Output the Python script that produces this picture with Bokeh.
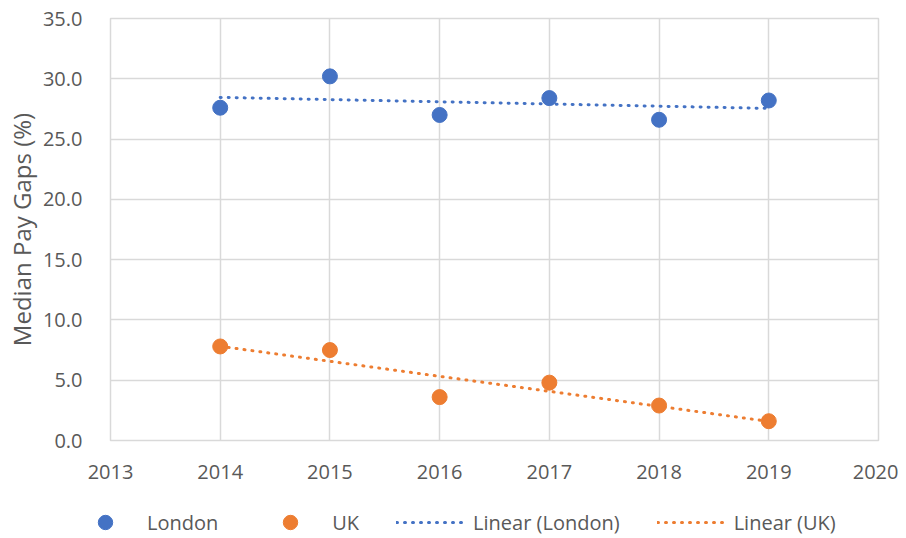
import numpy as np
from bokeh.plotting import figure
from bokeh.layouts import column
from bokeh.models import (Range1d, FixedTicker, NumeralTickFormatter, Legend, LegendItem)
from bokeh.embed import file_html
from bokeh.resources import INLINE

# ---- data ----
years = [2014, 2015, 2016, 2017, 2018, 2019]
london = [27.6, 30.2, 27.0, 28.4, 26.6, 28.2]
uk = [7.8, 7.5, 3.6, 4.8, 2.9, 1.6]
x_ticks = [2013, 2014, 2015, 2016, 2017, 2018, 2019, 2020]
y_ticks = [0, 5, 10, 15, 20, 25, 30, 35]
series_names = ["London", "UK", "Linear (London)", "Linear (UK)"]

BLUE = "#4472C4"
ORANGE = "#ED7D31"
GRID = "#D9D9D9"
TEXT = "#595959"
FONT = "Open Sans"

p = figure(width=898, height=498, output_backend="svg", toolbar_location=None,
           x_range=Range1d(x_ticks[0], x_ticks[-1]), y_range=Range1d(y_ticks[0], y_ticks[-1]),
           min_border_left=110, min_border_right=20, min_border_top=18, min_border_bottom=58)

p.outline_line_color = GRID
p.outline_line_width = 1.5
p.background_fill_color = "white"
p.border_fill_color = "white"

for ax in (p.xaxis, p.yaxis):
    ax.axis_line_color = None
    ax.major_tick_line_color = None
    ax.minor_tick_line_color = None
    ax.major_label_text_font = FONT
    ax.major_label_text_font_size = "20px"
    ax.major_label_text_color = TEXT

p.xaxis.ticker = FixedTicker(ticks=x_ticks)
p.yaxis.ticker = FixedTicker(ticks=y_ticks)
p.xaxis.formatter = NumeralTickFormatter(format="0")
p.yaxis.formatter = NumeralTickFormatter(format="0.0")
p.xaxis.major_label_standoff = 18
p.yaxis.major_label_standoff = 22

p.yaxis.axis_label = "Median Pay Gaps (%)"
p.yaxis.axis_label_text_font = FONT
p.yaxis.axis_label_text_font_size = "24px"
p.yaxis.axis_label_text_font_style = "normal"
p.yaxis.axis_label_text_color = TEXT
p.yaxis.axis_label_standoff = 2

p.xgrid.grid_line_color = GRID
p.ygrid.grid_line_color = GRID
p.xgrid.grid_line_width = 1.5
p.ygrid.grid_line_width = 1.5

# trend lines (least squares fit of the data, as Excel's linear trendline)
yr = np.array(years, dtype=float)
kl = np.polyfit(yr, london, 1)
ku = np.polyfit(yr, uk, 1)
tx = [years[0], years[-1]]
tl = list(np.polyval(kl, tx))
tu = list(np.polyval(ku, tx))

line_style = dict(line_width=3, line_dash="1 7", line_cap="round")
p.line(tx, tl, line_color=BLUE, **line_style)
p.line(tx, tu, line_color=ORANGE, **line_style)
p.scatter(years, london, size=15, color=BLUE)
p.scatter(years, uk, size=15, color=ORANGE)

# ---- legend strip below the chart (its data lie outside its view, only the key shows) ----
lg = figure(width=898, height=40, output_backend="svg", toolbar_location=None,
            x_axis_location=None, y_axis_location=None, min_border=0,
            min_border_left=0, min_border_right=0, min_border_top=0, min_border_bottom=0,
            x_range=Range1d(0, 1), y_range=Range1d(0, 1))
lg.outline_line_color = None
lg.xgrid.visible = False
lg.ygrid.visible = False
for fig in (p, lg):
    if "frame_align" in fig.properties():
        fig.frame_align = False
d_l = lg.scatter(years, london, size=15, color=BLUE)
d_u = lg.scatter(years, uk, size=15, color=ORANGE)
d_tl = lg.line(tx, tl, line_color=BLUE, **line_style)
d_tu = lg.line(tx, tu, line_color=ORANGE, **line_style)

legend = Legend(items=[LegendItem(label=series_names[0], renderers=[d_l]),
                       LegendItem(label=series_names[1], renderers=[d_u]),
                       LegendItem(label=series_names[2], renderers=[d_tl]),
                       LegendItem(label=series_names[3], renderers=[d_tu])],
                location=(70, -2), orientation="horizontal",
                glyph_width=70, glyph_height=36, label_standoff=7, spacing=37,
                padding=0, margin=0, border_line_color=None, background_fill_alpha=0,
                label_text_font=FONT, label_text_font_size="20px", label_text_color=TEXT)
lg.add_layout(legend, "center")

open("out.html", "w").write(file_html(column(p, lg, spacing=0), INLINE))
